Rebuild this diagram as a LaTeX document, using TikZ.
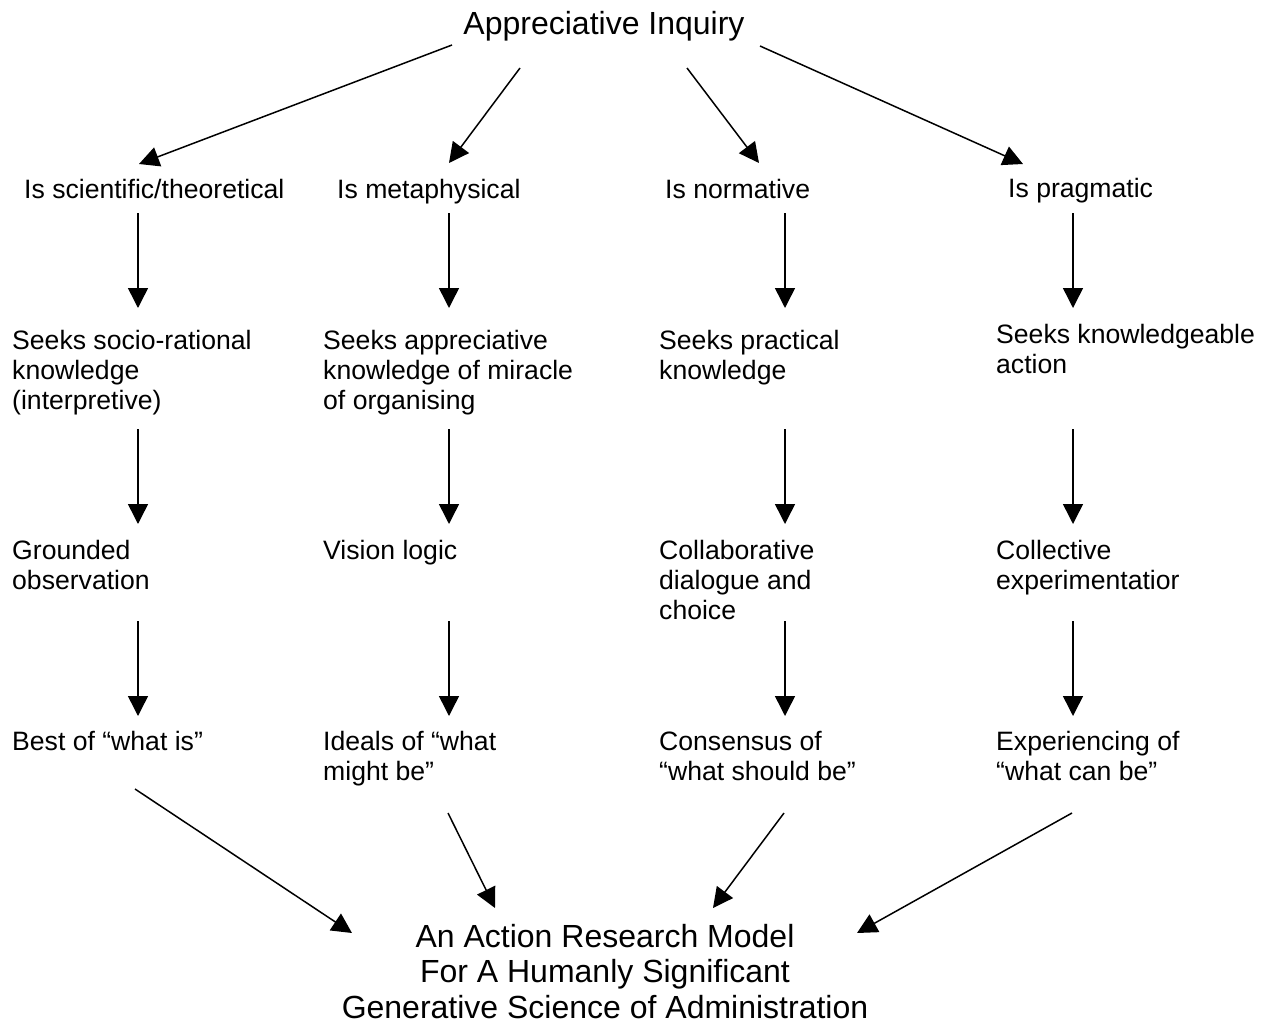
\documentclass[tikz,border=0pt]{standalone}
\usepackage{fontspec}
\setmainfont{Liberation Sans}
\usetikzlibrary{arrows.meta}
% multi-line labels whose reference point is the baseline of the first line
\newcommand{\leftlines}[1]{\begin{tabular}[t]{@{}l@{}}#1\end{tabular}}
\newcommand{\centerlines}[1]{\begin{tabular}[t]{@{}c@{}}#1\end{tabular}}

\begin{document}
\begin{tikzpicture}[x=1pt,y=-1pt,
  lbl/.style={anchor=base west, inner sep=0pt, font=\fontsize{26.6}{30}\selectfont},
  bigtext/.style={anchor=base, inner sep=0pt, font=\fontsize{32}{35.5}\selectfont},
  arr/.style={line width=1.5pt, -{Triangle[length=20pt,width=20pt]}}]

\fill[white] (0,0) rectangle (1270,1025);
\useasboundingbox (0,0) rectangle (1270,1025);

% root
\node[bigtext] (root) at (604,35) {Appreciative Inquiry};

% first level
\node[lbl] (sci)  at (24,198)   {Is scientific/theoretical};
\node[lbl] (meta) at (337,198)  {Is metaphysical};
\node[lbl] (norm) at (665,198)  {Is normative};
\node[lbl] (prag) at (1008,197) {Is pragmatic};

% second level
\node[lbl] (sciK)  at (12,349)  {\leftlines{Seeks socio-rational\\knowledge\\(interpretive)}};
\node[lbl] (metaK) at (323,349) {\leftlines{Seeks appreciative\\knowledge of miracle\\of organising}};
\node[lbl] (normK) at (659,349) {\leftlines{Seeks practical\\knowledge}};
\node[lbl] (pragK) at (996,343) {\leftlines{Seeks knowledgeable\\action}};

% third level
\node[lbl] (sciM)  at (12,559)  {\leftlines{Grounded\\observation}};
\node[lbl] (metaM) at (323,559) {Vision logic};
\node[lbl] (normM) at (659,559) {\leftlines{Collaborative\\dialogue and\\choice}};
\node[lbl] (pragM) at (996,559) {\leftlines{Collective\\experimentatior}};

% fourth level
\node[lbl] (sciR)  at (12,750)  {Best of “what is”};
\node[lbl] (metaR) at (323,750) {\leftlines{Ideals of “what\\might be”}};
\node[lbl] (normR) at (659,750) {\leftlines{Consensus of\\“what should be”}};
\node[lbl] (pragR) at (996,750) {\leftlines{Experiencing of\\“what can be”}};

% outcome
\node[bigtext] (model) at (605,947)
  {\centerlines{An Action Research Model\\For A Humanly Significant\\Generative Science of Administration}};

% arrow end points
\coordinate (rootA) at (452,45);   \coordinate (sciT)  at (139,164);
\coordinate (rootB) at (520,68);   \coordinate (metaT) at (449,163);
\coordinate (rootC) at (687,68);   \coordinate (normT) at (759,163);
\coordinate (rootD) at (760,46);   \coordinate (pragT) at (1023,164);

\coordinate (sciB1) at (138,213);  \coordinate (sciKT) at (138,308);
\coordinate (sciB2) at (138,429);  \coordinate (sciMT) at (138,524);
\coordinate (sciB3) at (138,621);  \coordinate (sciRT) at (138,716);
\coordinate (metaB1) at (449,213); \coordinate (metaKT) at (449,308);
\coordinate (metaB2) at (449,429); \coordinate (metaMT) at (449,524);
\coordinate (metaB3) at (449,621); \coordinate (metaRT) at (449,716);
\coordinate (normB1) at (785,213); \coordinate (normKT) at (785,308);
\coordinate (normB2) at (785,429); \coordinate (normMT) at (785,524);
\coordinate (normB3) at (785,621); \coordinate (normRT) at (785,716);
\coordinate (pragB1) at (1073,213); \coordinate (pragKT) at (1073,308);
\coordinate (pragB2) at (1073,429); \coordinate (pragMT) at (1073,524);
\coordinate (pragB3) at (1073,621); \coordinate (pragRT) at (1073,716);

\coordinate (sciRB)  at (135,789);  \coordinate (modelA) at (352,933);
\coordinate (metaRB) at (448,813);  \coordinate (modelB) at (495,908);
\coordinate (normRB) at (784,813);  \coordinate (modelC) at (713,908);
\coordinate (pragRB) at (1072,813); \coordinate (modelD) at (857,933);

% connectors
\draw[arr] (rootA) -- (sciT);
\draw[arr] (rootB) -- (metaT);
\draw[arr] (rootC) -- (normT);
\draw[arr] (rootD) -- (pragT);

\foreach \c in {sci,meta,norm,prag}{
  \draw[arr] (\c B1) -- (\c KT);
  \draw[arr] (\c B2) -- (\c MT);
  \draw[arr] (\c B3) -- (\c RT);
}

\draw[arr] (sciRB)  -- (modelA);
\draw[arr] (metaRB) -- (modelB);
\draw[arr] (normRB) -- (modelC);
\draw[arr] (pragRB) -- (modelD);
\end{tikzpicture}
\end{document}
